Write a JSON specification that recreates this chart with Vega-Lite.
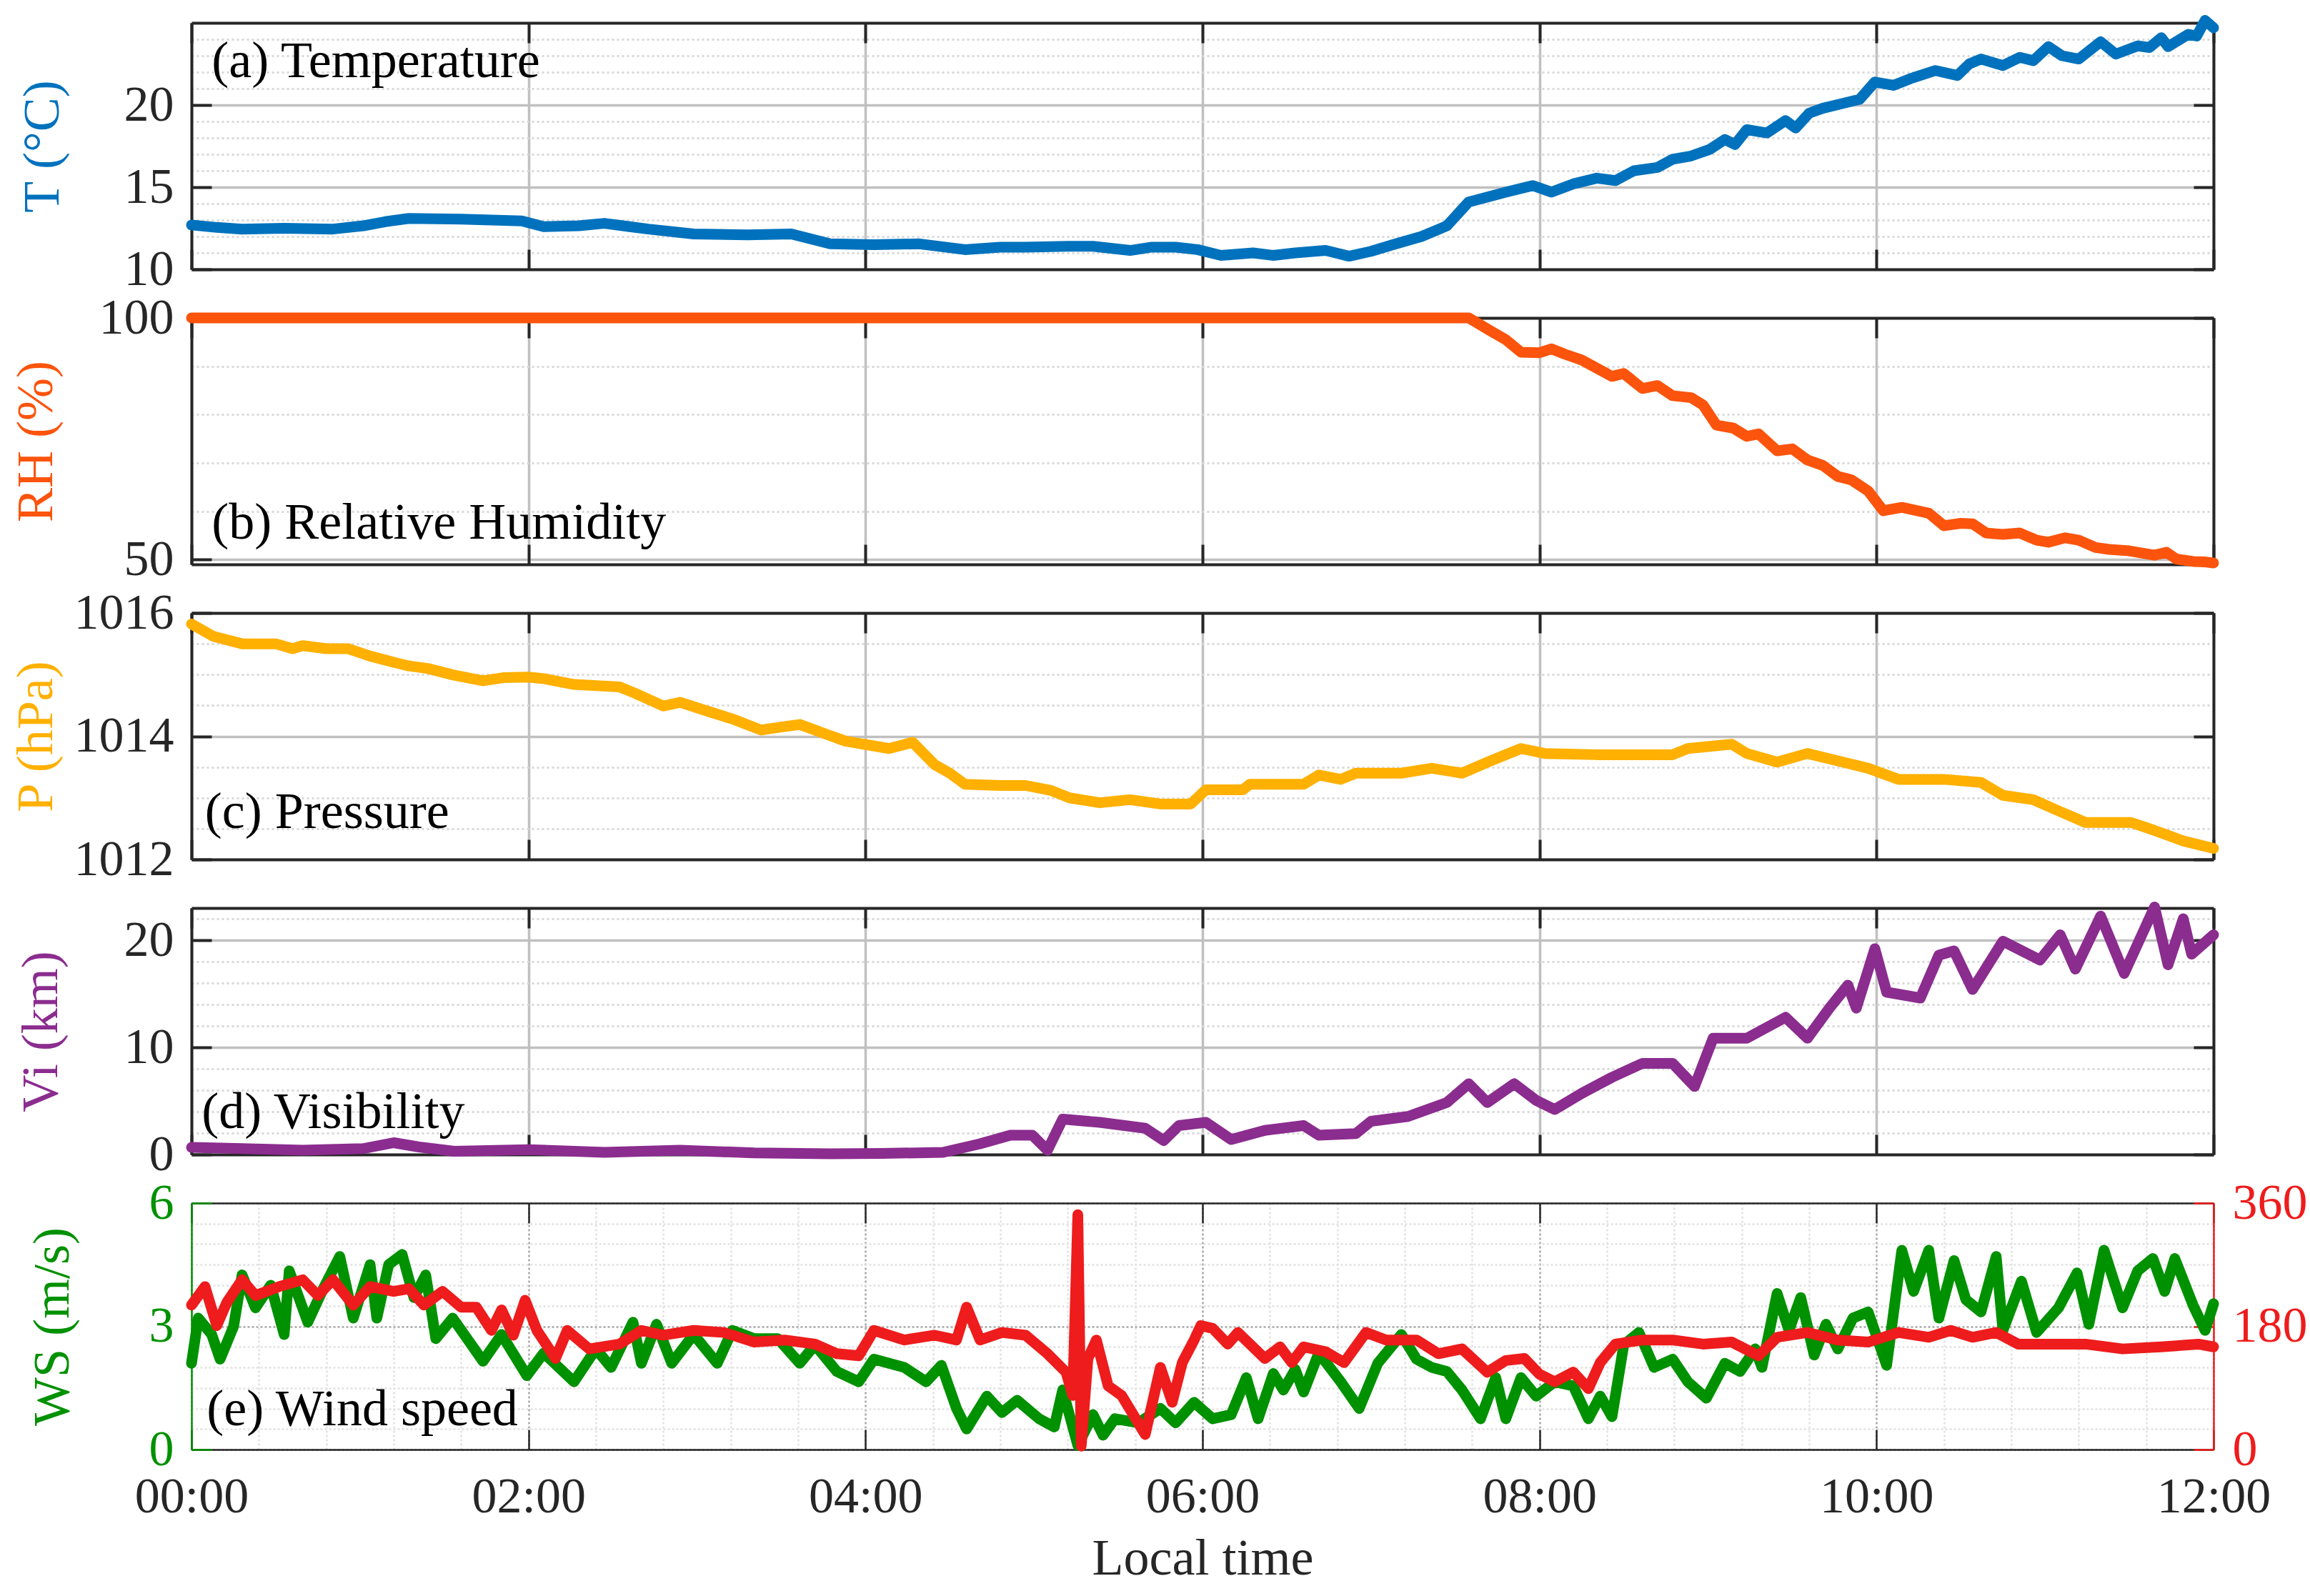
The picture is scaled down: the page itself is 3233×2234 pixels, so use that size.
{
  "$schema": "https://vega.github.io/schema/vega-lite/v6.json",
  "background": "white",
  "padding": {"left": 14, "top": 21, "right": 5, "bottom": 5},
  "config": {
    "font": "Liberation Serif",
    "view": {"stroke": null},
    "axis": {
      "labelFont": "Liberation Serif",
      "labelFontSize": 70,
      "labelColor": "#262626",
      "titleFont": "Liberation Serif",
      "titleFontSize": 72,
      "titleFontWeight": "normal",
      "labelFlush": false,
      "labelOverlap": false,
      "tickColor": "#262626",
      "domainColor": "#262626"
    }
  },
  "datasets": {
    "temp": [
      {"t": 0, "v": 12.7}, {"t": 0.15, "v": 12.55}, {"t": 0.3, "v": 12.45}, {"t": 0.55, "v": 12.5}, {"t": 0.84, "v": 12.45},
      {"t": 1.02, "v": 12.65}, {"t": 1.15, "v": 12.9}, {"t": 1.29, "v": 13.1}, {"t": 1.6, "v": 13.05}, {"t": 1.96, "v": 12.95},
      {"t": 2.09, "v": 12.6}, {"t": 2.3, "v": 12.65}, {"t": 2.45, "v": 12.8}, {"t": 2.6, "v": 12.6}, {"t": 2.71, "v": 12.45},
      {"t": 2.98, "v": 12.15}, {"t": 3.3, "v": 12.1}, {"t": 3.56, "v": 12.15}, {"t": 3.79, "v": 11.55}, {"t": 4.05, "v": 11.5},
      {"t": 4.32, "v": 11.55}, {"t": 4.59, "v": 11.2}, {"t": 4.8, "v": 11.35}, {"t": 4.95, "v": 11.35}, {"t": 5.2, "v": 11.4},
      {"t": 5.35, "v": 11.4}, {"t": 5.57, "v": 11.15}, {"t": 5.7, "v": 11.35}, {"t": 5.84, "v": 11.35}, {"t": 5.97, "v": 11.2},
      {"t": 6.11, "v": 10.85}, {"t": 6.3, "v": 11.0}, {"t": 6.42, "v": 10.85}, {"t": 6.55, "v": 11.0}, {"t": 6.73, "v": 11.15},
      {"t": 6.87, "v": 10.8}, {"t": 7.0, "v": 11.1}, {"t": 7.13, "v": 11.5}, {"t": 7.3, "v": 12.0}, {"t": 7.45, "v": 12.65},
      {"t": 7.58, "v": 14.1}, {"t": 7.8, "v": 14.7}, {"t": 7.96, "v": 15.1}, {"t": 8.07, "v": 14.7}, {"t": 8.2, "v": 15.2},
      {"t": 8.34, "v": 15.55}, {"t": 8.45, "v": 15.4}, {"t": 8.56, "v": 16.0}, {"t": 8.7, "v": 16.2}, {"t": 8.79, "v": 16.7},
      {"t": 8.9, "v": 16.9}, {"t": 9.01, "v": 17.3}, {"t": 9.1, "v": 17.9}, {"t": 9.16, "v": 17.6},
      {"t": 9.23, "v": 18.5}, {"t": 9.35, "v": 18.3}, {"t": 9.46, "v": 19.05}, {"t": 9.52, "v": 18.6}, {"t": 9.6, "v": 19.5}, {"t": 9.68, "v": 19.8},
      {"t": 9.8, "v": 20.1}, {"t": 9.9, "v": 20.35}, {"t": 9.99, "v": 21.4}, {"t": 10.1, "v": 21.2}, {"t": 10.2, "v": 21.6}, {"t": 10.35, "v": 22.1}, {"t": 10.48, "v": 21.8},
      {"t": 10.55, "v": 22.5}, {"t": 10.62, "v": 22.8}, {"t": 10.75, "v": 22.4}, {"t": 10.85, "v": 22.9}, {"t": 10.93, "v": 22.7}, {"t": 11.02, "v": 23.55}, {"t": 11.1, "v": 23.0}, {"t": 11.2, "v": 22.8},
      {"t": 11.33, "v": 23.85}, {"t": 11.42, "v": 23.1}, {"t": 11.55, "v": 23.6}, {"t": 11.62, "v": 23.5}, {"t": 11.69, "v": 24.1}, {"t": 11.73, "v": 23.55},
      {"t": 11.85, "v": 24.3}, {"t": 11.9, "v": 24.2}, {"t": 11.95, "v": 25.15}, {"t": 12.0, "v": 24.7}
    ],
    "rh": [
      {"t": 0, "v": 100}, {"t": 7.58, "v": 100}, {"t": 7.71, "v": 97.3}, {"t": 7.8, "v": 95.5}, {"t": 7.89, "v": 92.9},
      {"t": 8.0, "v": 92.8}, {"t": 8.07, "v": 93.6}, {"t": 8.15, "v": 92.5}, {"t": 8.25, "v": 91.3}, {"t": 8.43, "v": 87.9},
      {"t": 8.5, "v": 88.5}, {"t": 8.61, "v": 85.4}, {"t": 8.7, "v": 86}, {"t": 8.79, "v": 83.9}, {"t": 8.9, "v": 83.5},
      {"t": 8.97, "v": 82}, {"t": 9.05, "v": 77.8}, {"t": 9.15, "v": 77.2}, {"t": 9.23, "v": 75.5}, {"t": 9.3, "v": 76},
      {"t": 9.41, "v": 72.5}, {"t": 9.5, "v": 72.9}, {"t": 9.59, "v": 70.6}, {"t": 9.68, "v": 69.5}, {"t": 9.77, "v": 67.2},
      {"t": 9.85, "v": 66.5}, {"t": 9.95, "v": 64.2}, {"t": 10.04, "v": 60.1}, {"t": 10.15, "v": 60.8}, {"t": 10.31, "v": 59.6},
      {"t": 10.4, "v": 57}, {"t": 10.5, "v": 57.5}, {"t": 10.57, "v": 57.4}, {"t": 10.65, "v": 55.5}, {"t": 10.75, "v": 55.2},
      {"t": 10.85, "v": 55.5}, {"t": 10.95, "v": 54}, {"t": 11.02, "v": 53.6}, {"t": 11.12, "v": 54.5}, {"t": 11.2, "v": 54},
      {"t": 11.3, "v": 52.5}, {"t": 11.38, "v": 52.1}, {"t": 11.5, "v": 51.8}, {"t": 11.65, "v": 50.9}, {"t": 11.72, "v": 51.5},
      {"t": 11.78, "v": 50.1}, {"t": 11.88, "v": 49.6}, {"t": 11.95, "v": 49.5}, {"t": 12, "v": 49.3}
    ],
    "pres": [
      {"t": 0, "v": 1015.82}, {"t": 0.13, "v": 1015.62}, {"t": 0.3, "v": 1015.5}, {"t": 0.5, "v": 1015.5}, {"t": 0.6, "v": 1015.42},
      {"t": 0.66, "v": 1015.47}, {"t": 0.8, "v": 1015.42}, {"t": 0.93, "v": 1015.42}, {"t": 1.06, "v": 1015.3}, {"t": 1.2, "v": 1015.2},
      {"t": 1.29, "v": 1015.14}, {"t": 1.4, "v": 1015.1}, {"t": 1.56, "v": 1014.99}, {"t": 1.73, "v": 1014.9}, {"t": 1.85, "v": 1014.95},
      {"t": 2.0, "v": 1014.96}, {"t": 2.1, "v": 1014.93}, {"t": 2.27, "v": 1014.84}, {"t": 2.54, "v": 1014.8}, {"t": 2.63, "v": 1014.7},
      {"t": 2.8, "v": 1014.49}, {"t": 2.9, "v": 1014.55}, {"t": 3.07, "v": 1014.4}, {"t": 3.21, "v": 1014.28}, {"t": 3.38, "v": 1014.1},
      {"t": 3.5, "v": 1014.15}, {"t": 3.61, "v": 1014.19}, {"t": 3.75, "v": 1014.05}, {"t": 3.88, "v": 1013.92}, {"t": 4.14, "v": 1013.8},
      {"t": 4.28, "v": 1013.9}, {"t": 4.41, "v": 1013.54}, {"t": 4.5, "v": 1013.4}, {"t": 4.59, "v": 1013.22}, {"t": 4.8, "v": 1013.2},
      {"t": 4.95, "v": 1013.2}, {"t": 5.1, "v": 1013.12}, {"t": 5.21, "v": 1013.0}, {"t": 5.39, "v": 1012.92}, {"t": 5.57, "v": 1012.97},
      {"t": 5.75, "v": 1012.9}, {"t": 5.93, "v": 1012.9}, {"t": 6.02, "v": 1013.13}, {"t": 6.24, "v": 1013.13}, {"t": 6.28, "v": 1013.22},
      {"t": 6.6, "v": 1013.22}, {"t": 6.69, "v": 1013.37}, {"t": 6.82, "v": 1013.3}, {"t": 6.91, "v": 1013.4}, {"t": 7.18, "v": 1013.4},
      {"t": 7.36, "v": 1013.48}, {"t": 7.54, "v": 1013.4}, {"t": 7.71, "v": 1013.6}, {"t": 7.89, "v": 1013.8}, {"t": 8.03, "v": 1013.72},
      {"t": 8.34, "v": 1013.7}, {"t": 8.79, "v": 1013.7}, {"t": 8.88, "v": 1013.8}, {"t": 9.14, "v": 1013.87}, {"t": 9.23, "v": 1013.72},
      {"t": 9.41, "v": 1013.58}, {"t": 9.59, "v": 1013.72}, {"t": 9.77, "v": 1013.6}, {"t": 9.95, "v": 1013.48}, {"t": 10.13, "v": 1013.3},
      {"t": 10.4, "v": 1013.3}, {"t": 10.62, "v": 1013.25}, {"t": 10.75, "v": 1013.04}, {"t": 10.93, "v": 1012.97}, {"t": 11.07, "v": 1012.8},
      {"t": 11.24, "v": 1012.6}, {"t": 11.51, "v": 1012.6}, {"t": 11.65, "v": 1012.47}, {"t": 11.82, "v": 1012.3}, {"t": 12, "v": 1012.18}
    ],
    "vis": [
      {"t": 0, "v": 0.66}, {"t": 0.3, "v": 0.55}, {"t": 0.66, "v": 0.4}, {"t": 1.02, "v": 0.55}, {"t": 1.2, "v": 1.1},
      {"t": 1.35, "v": 0.7}, {"t": 1.56, "v": 0.3}, {"t": 2.0, "v": 0.45}, {"t": 2.45, "v": 0.2}, {"t": 2.9, "v": 0.4},
      {"t": 3.34, "v": 0.15}, {"t": 3.79, "v": 0.07}, {"t": 4.1, "v": 0.1}, {"t": 4.46, "v": 0.2}, {"t": 4.68, "v": 1.0},
      {"t": 4.86, "v": 1.8}, {"t": 4.99, "v": 1.8}, {"t": 5.08, "v": 0.4}, {"t": 5.17, "v": 3.3}, {"t": 5.39, "v": 3.0},
      {"t": 5.66, "v": 2.45}, {"t": 5.77, "v": 1.3}, {"t": 5.86, "v": 2.7}, {"t": 6.02, "v": 3.0}, {"t": 6.17, "v": 1.4},
      {"t": 6.37, "v": 2.25}, {"t": 6.6, "v": 2.7}, {"t": 6.69, "v": 1.8}, {"t": 6.91, "v": 1.95}, {"t": 7.0, "v": 3.1},
      {"t": 7.22, "v": 3.55}, {"t": 7.45, "v": 4.85}, {"t": 7.58, "v": 6.6}, {"t": 7.69, "v": 4.85}, {"t": 7.85, "v": 6.6},
      {"t": 7.98, "v": 5.05}, {"t": 8.09, "v": 4.2}, {"t": 8.25, "v": 5.7}, {"t": 8.43, "v": 7.2}, {"t": 8.61, "v": 8.5},
      {"t": 8.79, "v": 8.5}, {"t": 8.92, "v": 6.35}, {"t": 9.03, "v": 10.85}, {"t": 9.23, "v": 10.85}, {"t": 9.46, "v": 12.8},
      {"t": 9.59, "v": 10.85}, {"t": 9.72, "v": 13.65}, {"t": 9.83, "v": 15.8}, {"t": 9.88, "v": 13.65}, {"t": 9.99, "v": 19.2},
      {"t": 10.06, "v": 15.15}, {"t": 10.26, "v": 14.6}, {"t": 10.37, "v": 18.6}, {"t": 10.46, "v": 19.0}, {"t": 10.57, "v": 15.4},
      {"t": 10.75, "v": 19.9}, {"t": 10.97, "v": 18.15}, {"t": 11.09, "v": 20.5}, {"t": 11.18, "v": 17.3}, {"t": 11.33, "v": 22.25},
      {"t": 11.47, "v": 16.9}, {"t": 11.65, "v": 23.1}, {"t": 11.73, "v": 17.7}, {"t": 11.82, "v": 22.0}, {"t": 11.87, "v": 18.7},
      {"t": 12, "v": 20.5}
    ],
    "ws": [
      {"t": 0, "v": 2.1}, {"t": 0.04, "v": 3.2}, {"t": 0.12, "v": 2.8}, {"t": 0.17, "v": 2.2}, {"t": 0.25, "v": 3.0},
      {"t": 0.3, "v": 4.25}, {"t": 0.38, "v": 3.45}, {"t": 0.47, "v": 4.0}, {"t": 0.55, "v": 2.8}, {"t": 0.58, "v": 4.35},
      {"t": 0.69, "v": 3.1}, {"t": 0.78, "v": 3.9}, {"t": 0.88, "v": 4.7}, {"t": 0.96, "v": 3.2}, {"t": 1.06, "v": 4.5},
      {"t": 1.1, "v": 3.2}, {"t": 1.17, "v": 4.5}, {"t": 1.25, "v": 4.75}, {"t": 1.32, "v": 3.7}, {"t": 1.39, "v": 4.25},
      {"t": 1.45, "v": 2.7}, {"t": 1.55, "v": 3.2}, {"t": 1.73, "v": 2.15}, {"t": 1.84, "v": 2.8}, {"t": 1.99, "v": 1.8},
      {"t": 2.09, "v": 2.35}, {"t": 2.27, "v": 1.65}, {"t": 2.4, "v": 2.45}, {"t": 2.49, "v": 2.0}, {"t": 2.62, "v": 3.1},
      {"t": 2.67, "v": 2.1}, {"t": 2.76, "v": 3.05}, {"t": 2.85, "v": 2.1}, {"t": 2.98, "v": 2.8}, {"t": 3.12, "v": 2.1},
      {"t": 3.21, "v": 2.9}, {"t": 3.34, "v": 2.7}, {"t": 3.48, "v": 2.7}, {"t": 3.61, "v": 2.1}, {"t": 3.7, "v": 2.55},
      {"t": 3.83, "v": 1.9}, {"t": 3.96, "v": 1.65}, {"t": 4.05, "v": 2.2}, {"t": 4.23, "v": 2.0}, {"t": 4.36, "v": 1.65},
      {"t": 4.45, "v": 2.05}, {"t": 4.54, "v": 1.0}, {"t": 4.6, "v": 0.5}, {"t": 4.72, "v": 1.3}, {"t": 4.81, "v": 0.9},
      {"t": 4.9, "v": 1.2}, {"t": 5.03, "v": 0.75}, {"t": 5.12, "v": 0.55}, {"t": 5.17, "v": 1.45}, {"t": 5.26, "v": 0.1},
      {"t": 5.35, "v": 0.85}, {"t": 5.41, "v": 0.35}, {"t": 5.48, "v": 0.75}, {"t": 5.62, "v": 0.65}, {"t": 5.75, "v": 1.0},
      {"t": 5.84, "v": 0.65}, {"t": 5.95, "v": 1.15}, {"t": 6.06, "v": 0.75}, {"t": 6.17, "v": 0.85}, {"t": 6.26, "v": 1.75},
      {"t": 6.33, "v": 0.75}, {"t": 6.42, "v": 1.85}, {"t": 6.48, "v": 1.45}, {"t": 6.55, "v": 1.95}, {"t": 6.6, "v": 1.4},
      {"t": 6.69, "v": 2.35}, {"t": 6.82, "v": 1.65}, {"t": 6.93, "v": 1.0}, {"t": 7.04, "v": 2.1}, {"t": 7.18, "v": 2.8},
      {"t": 7.27, "v": 2.2}, {"t": 7.36, "v": 2.0}, {"t": 7.45, "v": 1.9}, {"t": 7.54, "v": 1.45}, {"t": 7.65, "v": 0.75},
      {"t": 7.74, "v": 1.75}, {"t": 7.8, "v": 0.75}, {"t": 7.89, "v": 1.75}, {"t": 7.98, "v": 1.3}, {"t": 8.09, "v": 1.65},
      {"t": 8.2, "v": 1.55}, {"t": 8.29, "v": 0.75}, {"t": 8.36, "v": 1.3}, {"t": 8.43, "v": 0.8}, {"t": 8.5, "v": 2.55},
      {"t": 8.59, "v": 2.85}, {"t": 8.68, "v": 2.0}, {"t": 8.79, "v": 2.2}, {"t": 8.88, "v": 1.65}, {"t": 8.99, "v": 1.25},
      {"t": 9.1, "v": 2.1}, {"t": 9.19, "v": 1.9}, {"t": 9.28, "v": 2.45}, {"t": 9.32, "v": 2.0}, {"t": 9.41, "v": 3.8},
      {"t": 9.48, "v": 2.9}, {"t": 9.55, "v": 3.7}, {"t": 9.63, "v": 2.3}, {"t": 9.7, "v": 3.05}, {"t": 9.77, "v": 2.45},
      {"t": 9.86, "v": 3.2}, {"t": 9.95, "v": 3.35}, {"t": 10.06, "v": 2.05}, {"t": 10.15, "v": 4.85}, {"t": 10.22, "v": 3.85},
      {"t": 10.31, "v": 4.85}, {"t": 10.37, "v": 3.2}, {"t": 10.46, "v": 4.6}, {"t": 10.53, "v": 3.65}, {"t": 10.62, "v": 3.35},
      {"t": 10.71, "v": 4.7}, {"t": 10.75, "v": 2.9}, {"t": 10.86, "v": 4.1}, {"t": 10.95, "v": 2.85}, {"t": 11.08, "v": 3.45},
      {"t": 11.19, "v": 4.3}, {"t": 11.26, "v": 3.05}, {"t": 11.35, "v": 4.85}, {"t": 11.46, "v": 3.45}, {"t": 11.55, "v": 4.35},
      {"t": 11.64, "v": 4.65}, {"t": 11.71, "v": 3.85}, {"t": 11.77, "v": 4.65}, {"t": 11.88, "v": 3.5}, {"t": 11.95, "v": 2.9},
      {"t": 12, "v": 3.55}
    ],
    "wd": [
      {"t": 0, "v": 211}, {"t": 0.08, "v": 238}, {"t": 0.15, "v": 181}, {"t": 0.21, "v": 215}, {"t": 0.3, "v": 248},
      {"t": 0.38, "v": 225}, {"t": 0.52, "v": 238}, {"t": 0.66, "v": 248}, {"t": 0.75, "v": 225}, {"t": 0.84, "v": 248},
      {"t": 0.96, "v": 211}, {"t": 1.06, "v": 238}, {"t": 1.2, "v": 231}, {"t": 1.29, "v": 235}, {"t": 1.38, "v": 211},
      {"t": 1.49, "v": 231}, {"t": 1.6, "v": 208}, {"t": 1.69, "v": 208}, {"t": 1.78, "v": 174}, {"t": 1.84, "v": 204},
      {"t": 1.91, "v": 167}, {"t": 1.98, "v": 218}, {"t": 2.05, "v": 174}, {"t": 2.16, "v": 133}, {"t": 2.23, "v": 174},
      {"t": 2.36, "v": 147}, {"t": 2.54, "v": 154}, {"t": 2.67, "v": 174}, {"t": 2.8, "v": 167}, {"t": 2.98, "v": 174},
      {"t": 3.16, "v": 171}, {"t": 3.34, "v": 157}, {"t": 3.52, "v": 160}, {"t": 3.7, "v": 154}, {"t": 3.83, "v": 140},
      {"t": 3.96, "v": 137}, {"t": 4.05, "v": 174}, {"t": 4.23, "v": 160}, {"t": 4.41, "v": 167}, {"t": 4.54, "v": 160},
      {"t": 4.6, "v": 208}, {"t": 4.68, "v": 160}, {"t": 4.81, "v": 171}, {"t": 4.95, "v": 167}, {"t": 5.08, "v": 140},
      {"t": 5.19, "v": 113}, {"t": 5.23, "v": 79}, {"t": 5.26, "v": 343}, {"t": 5.28, "v": 5}, {"t": 5.32, "v": 133},
      {"t": 5.37, "v": 160}, {"t": 5.44, "v": 93}, {"t": 5.52, "v": 79}, {"t": 5.66, "v": 22}, {"t": 5.75, "v": 120},
      {"t": 5.82, "v": 69}, {"t": 5.88, "v": 127}, {"t": 5.95, "v": 160}, {"t": 5.99, "v": 181}, {"t": 6.06, "v": 177},
      {"t": 6.15, "v": 154}, {"t": 6.21, "v": 171}, {"t": 6.37, "v": 133}, {"t": 6.46, "v": 150}, {"t": 6.53, "v": 127},
      {"t": 6.6, "v": 150}, {"t": 6.73, "v": 143}, {"t": 6.84, "v": 127}, {"t": 6.97, "v": 171}, {"t": 7.09, "v": 160},
      {"t": 7.27, "v": 160}, {"t": 7.4, "v": 140}, {"t": 7.54, "v": 147}, {"t": 7.69, "v": 113}, {"t": 7.8, "v": 130},
      {"t": 7.91, "v": 133}, {"t": 8.0, "v": 110}, {"t": 8.09, "v": 99}, {"t": 8.2, "v": 113}, {"t": 8.29, "v": 89},
      {"t": 8.36, "v": 127}, {"t": 8.45, "v": 154}, {"t": 8.61, "v": 160}, {"t": 8.79, "v": 160}, {"t": 8.97, "v": 154},
      {"t": 9.14, "v": 157}, {"t": 9.3, "v": 137}, {"t": 9.41, "v": 164}, {"t": 9.59, "v": 171}, {"t": 9.77, "v": 160},
      {"t": 9.95, "v": 157}, {"t": 10.13, "v": 171}, {"t": 10.31, "v": 164}, {"t": 10.44, "v": 174}, {"t": 10.57, "v": 164},
      {"t": 10.71, "v": 171}, {"t": 10.84, "v": 154}, {"t": 11.02, "v": 154}, {"t": 11.24, "v": 154}, {"t": 11.46, "v": 147},
      {"t": 11.69, "v": 150}, {"t": 11.91, "v": 154}, {"t": 12, "v": 150}
    ]
  },
  "bounds": "flush",
  "spacing": 68,
  "vconcat": [
    {
      "width": 2830,
      "height": 345,
      "data": {"name": "temp"},
      "resolve": {"axis": {"x": "independent", "y": "independent"}},
      "layer": [
        {
          "mark": {"type": "line", "opacity": 0},
          "encoding": {
            "x": {"field": "t", "type": "quantitative", "scale": {"domain": [0, 12], "nice": false}, "axis": {"orient": "top", "values": [0, 2, 4, 6, 8, 10, 12], "grid": false, "labels": false, "tickSize": -28, "tickWidth": 4, "domainWidth": 4, "title": null}},
            "y": {"field": "v", "type": "quantitative", "scale": {"domain": [10, 25], "nice": false, "zero": false}, "axis": {"orient": "left", "values": [11, 12, 13, 14, 16, 17, 18, 19, 21, 22, 23, 24], "grid": true, "gridColor": "#d9d9d9", "gridDash": [3, 4], "gridWidth": 3, "ticks": false, "labels": false, "domain": false, "title": null}}
          }
        },
        {
          "mark": {"type": "line", "color": "#0072BD", "strokeWidth": 15, "strokeJoin": "round", "strokeCap": "round"},
          "encoding": {
            "x": {"field": "t", "type": "quantitative", "scale": {"domain": [0, 12], "nice": false}, "axis": {"orient": "bottom", "values": [0, 2, 4, 6, 8, 10, 12], "grid": true, "gridColor": "#c0c0c0", "gridWidth": 3.5, "labels": false, "tickSize": -28, "tickWidth": 4, "domainWidth": 4, "title": null}},
            "y": {"field": "v", "type": "quantitative", "scale": {"domain": [10, 25], "nice": false, "zero": false}, "axis": {"orient": "left", "values": [10, 15, 20], "grid": true, "gridColor": "#c0c0c0", "gridWidth": 3.5, "tickSize": -28, "tickWidth": 4, "domainWidth": 4, "labelPadding": 53, "title": "T (°C)", "titleColor": "#0072BD", "titlePadding": 77}}
          }
        },
        {
          "mark": {"type": "line", "opacity": 0},
          "encoding": {
            "x": {"field": "t", "type": "quantitative", "scale": {"domain": [0, 12], "nice": false}, "axis": null},
            "y": {"field": "v", "type": "quantitative", "scale": {"domain": [10, 25], "nice": false, "zero": false}, "axis": {"orient": "right", "values": [10, 15, 20], "grid": false, "labels": false, "tickSize": -28, "tickWidth": 4, "domainWidth": 4, "title": null}}
          }
        },
        {
          "data": {"values": [{"label": "(a) Temperature"}]},
          "mark": {"type": "text", "align": "left", "baseline": "alphabetic", "fontSize": 72, "color": "#000000"},
          "encoding": {
            "x": {"datum": 0.12, "type": "quantitative", "axis": null},
            "y": {"datum": 21.7, "type": "quantitative", "axis": null},
            "text": {"field": "label"}
          }
        }
      ]
    },
    {
      "width": 2830,
      "height": 345,
      "data": {"name": "rh"},
      "resolve": {"axis": {"x": "independent", "y": "independent"}},
      "layer": [
        {
          "mark": {"type": "line", "opacity": 0},
          "encoding": {
            "x": {"field": "t", "type": "quantitative", "scale": {"domain": [0, 12], "nice": false}, "axis": {"orient": "top", "values": [0, 2, 4, 6, 8, 10, 12], "grid": false, "labels": false, "tickSize": -28, "tickWidth": 4, "domainWidth": 4, "title": null}},
            "y": {"field": "v", "type": "quantitative", "scale": {"domain": [49, 100], "nice": false, "zero": false}, "axis": {"orient": "left", "values": [60, 70, 80, 90], "grid": true, "gridColor": "#d9d9d9", "gridDash": [3, 4], "gridWidth": 3, "ticks": false, "labels": false, "domain": false, "title": null}}
          }
        },
        {
          "mark": {"type": "line", "color": "#FC540C", "strokeWidth": 15, "strokeJoin": "round", "strokeCap": "round"},
          "encoding": {
            "x": {"field": "t", "type": "quantitative", "scale": {"domain": [0, 12], "nice": false}, "axis": {"orient": "bottom", "values": [0, 2, 4, 6, 8, 10, 12], "grid": true, "gridColor": "#c0c0c0", "gridWidth": 3.5, "labels": false, "tickSize": -28, "tickWidth": 4, "domainWidth": 4, "title": null}},
            "y": {"field": "v", "type": "quantitative", "scale": {"domain": [49, 100], "nice": false, "zero": false}, "axis": {"orient": "left", "values": [50, 100], "grid": true, "gridColor": "#c0c0c0", "gridWidth": 3.5, "tickSize": -28, "tickWidth": 4, "domainWidth": 4, "labelPadding": 53, "title": "RH (%)", "titleColor": "#FC540C", "titlePadding": 51}}
          }
        },
        {
          "mark": {"type": "line", "opacity": 0},
          "encoding": {
            "x": {"field": "t", "type": "quantitative", "scale": {"domain": [0, 12], "nice": false}, "axis": null},
            "y": {"field": "v", "type": "quantitative", "scale": {"domain": [49, 100], "nice": false, "zero": false}, "axis": {"orient": "right", "values": [50, 100], "grid": false, "labels": false, "tickSize": -28, "tickWidth": 4, "domainWidth": 4, "title": null}}
          }
        },
        {
          "data": {"values": [{"label": "(b) Relative Humidity"}]},
          "mark": {"type": "text", "align": "left", "baseline": "alphabetic", "fontSize": 72, "color": "#000000"},
          "encoding": {
            "x": {"datum": 0.12, "type": "quantitative", "axis": null},
            "y": {"datum": 54.3, "type": "quantitative", "axis": null},
            "text": {"field": "label"}
          }
        }
      ]
    },
    {
      "width": 2830,
      "height": 345,
      "data": {"name": "pres"},
      "resolve": {"axis": {"x": "independent", "y": "independent"}},
      "layer": [
        {
          "mark": {"type": "line", "opacity": 0},
          "encoding": {
            "x": {"field": "t", "type": "quantitative", "scale": {"domain": [0, 12], "nice": false}, "axis": {"orient": "top", "values": [0, 2, 4, 6, 8, 10, 12], "grid": false, "labels": false, "tickSize": -28, "tickWidth": 4, "domainWidth": 4, "title": null}},
            "y": {"field": "v", "type": "quantitative", "scale": {"domain": [1012, 1016], "nice": false, "zero": false}, "axis": {"orient": "left", "values": [1012.5, 1013, 1013.5, 1014.5, 1015, 1015.5], "grid": true, "gridColor": "#d9d9d9", "gridDash": [3, 4], "gridWidth": 3, "ticks": false, "labels": false, "domain": false, "title": null}}
          }
        },
        {
          "mark": {"type": "line", "color": "#FFB000", "strokeWidth": 15, "strokeJoin": "round", "strokeCap": "round"},
          "encoding": {
            "x": {"field": "t", "type": "quantitative", "scale": {"domain": [0, 12], "nice": false}, "axis": {"orient": "bottom", "values": [0, 2, 4, 6, 8, 10, 12], "grid": true, "gridColor": "#c0c0c0", "gridWidth": 3.5, "labels": false, "tickSize": -28, "tickWidth": 4, "domainWidth": 4, "title": null}},
            "y": {"field": "v", "type": "quantitative", "scale": {"domain": [1012, 1016], "nice": false, "zero": false}, "axis": {"orient": "left", "values": [1012, 1014, 1016], "format": "d", "grid": true, "gridColor": "#c0c0c0", "gridWidth": 3.5, "tickSize": -28, "tickWidth": 4, "domainWidth": 4, "labelPadding": 53, "title": "P (hPa)", "titleColor": "#FFB000", "titlePadding": 16}}
          }
        },
        {
          "mark": {"type": "line", "opacity": 0},
          "encoding": {
            "x": {"field": "t", "type": "quantitative", "scale": {"domain": [0, 12], "nice": false}, "axis": null},
            "y": {"field": "v", "type": "quantitative", "scale": {"domain": [1012, 1016], "nice": false, "zero": false}, "axis": {"orient": "right", "values": [1012, 1014, 1016], "grid": false, "labels": false, "tickSize": -28, "tickWidth": 4, "domainWidth": 4, "title": null}}
          }
        },
        {
          "data": {"values": [{"label": "(c) Pressure"}]},
          "mark": {"type": "text", "align": "left", "baseline": "alphabetic", "fontSize": 72, "color": "#000000"},
          "encoding": {
            "x": {"datum": 0.08, "type": "quantitative", "axis": null},
            "y": {"datum": 1012.51, "type": "quantitative", "axis": null},
            "text": {"field": "label"}
          }
        }
      ]
    },
    {
      "width": 2830,
      "height": 345,
      "data": {"name": "vis"},
      "resolve": {"axis": {"x": "independent", "y": "independent"}},
      "layer": [
        {
          "mark": {"type": "line", "opacity": 0},
          "encoding": {
            "x": {"field": "t", "type": "quantitative", "scale": {"domain": [0, 12], "nice": false}, "axis": {"orient": "top", "values": [0, 2, 4, 6, 8, 10, 12], "grid": false, "labels": false, "tickSize": -28, "tickWidth": 4, "domainWidth": 4, "title": null}},
            "y": {"field": "v", "type": "quantitative", "scale": {"domain": [0, 23], "nice": false, "zero": false}, "axis": {"orient": "left", "values": [2, 4, 6, 8, 12, 14, 16, 18, 22], "grid": true, "gridColor": "#d9d9d9", "gridDash": [3, 4], "gridWidth": 3, "ticks": false, "labels": false, "domain": false, "title": null}}
          }
        },
        {
          "mark": {"type": "line", "color": "#8B2C8F", "strokeWidth": 15, "strokeJoin": "round", "strokeCap": "round"},
          "encoding": {
            "x": {"field": "t", "type": "quantitative", "scale": {"domain": [0, 12], "nice": false}, "axis": {"orient": "bottom", "values": [0, 2, 4, 6, 8, 10, 12], "grid": true, "gridColor": "#c0c0c0", "gridWidth": 3.5, "labels": false, "tickSize": -28, "tickWidth": 4, "domainWidth": 4, "title": null}},
            "y": {"field": "v", "type": "quantitative", "scale": {"domain": [0, 23], "nice": false, "zero": false}, "axis": {"orient": "left", "values": [0, 10, 20], "grid": true, "gridColor": "#c0c0c0", "gridWidth": 3.5, "tickSize": -28, "tickWidth": 4, "domainWidth": 4, "labelPadding": 53, "title": "Vi (km)", "titleColor": "#8B2C8F", "titlePadding": 79}}
          }
        },
        {
          "mark": {"type": "line", "opacity": 0},
          "encoding": {
            "x": {"field": "t", "type": "quantitative", "scale": {"domain": [0, 12], "nice": false}, "axis": null},
            "y": {"field": "v", "type": "quantitative", "scale": {"domain": [0, 23], "nice": false, "zero": false}, "axis": {"orient": "right", "values": [0, 10, 20], "grid": false, "labels": false, "tickSize": -28, "tickWidth": 4, "domainWidth": 4, "title": null}}
          }
        },
        {
          "data": {"values": [{"label": "(d) Visibility"}]},
          "mark": {"type": "text", "align": "left", "baseline": "alphabetic", "fontSize": 72, "color": "#000000"},
          "encoding": {
            "x": {"datum": 0.06, "type": "quantitative", "axis": null},
            "y": {"datum": 2.46, "type": "quantitative", "axis": null},
            "text": {"field": "label"}
          }
        }
      ]
    },
    {
      "width": 2830,
      "height": 345,
      "resolve": {"axis": {"x": "independent", "y": "independent"}, "scale": {"y": "independent"}},
      "layer": [
        {
          "data": {"name": "ws"},
          "mark": {"type": "line", "opacity": 0},
          "encoding": {
            "x": {"field": "t", "type": "quantitative", "scale": {"domain": [0, 12], "nice": false}, "axis": {"orient": "bottom", "values": [0.4, 0.8, 1.2, 1.6, 2.4, 2.8, 3.2, 3.6, 4.4, 4.8, 5.2, 5.6, 6.4, 6.8, 7.2, 7.6, 8.4, 8.8, 9.2, 9.6, 10.4, 10.8, 11.2, 11.6], "grid": true, "gridColor": "#e2e2e2", "gridDash": [3, 3], "gridWidth": 2.5, "ticks": false, "labels": false, "domain": false, "title": null}},
            "y": {"field": "v", "type": "quantitative", "scale": {"domain": [0, 6], "nice": false, "zero": false}, "axis": {"orient": "left", "values": [0.5, 1, 1.5, 2, 2.5, 3.5, 4, 4.5, 5, 5.5], "grid": true, "gridColor": "#e2e2e2", "gridDash": [3, 3], "gridWidth": 2.5, "ticks": false, "labels": false, "domain": false, "title": null}}
          }
        },
        {
          "data": {"name": "ws"},
          "mark": {"type": "line", "color": "#009100", "strokeWidth": 15, "strokeJoin": "round", "strokeCap": "round"},
          "encoding": {
            "x": {"field": "t", "type": "quantitative", "scale": {"domain": [0, 12], "nice": false}, "axis": {"orient": "bottom", "values": [0, 2, 4, 6, 8, 10, 12], "labelExpr": "(datum.value < 10 ? '0' : '') + datum.value + ':00'", "grid": true, "gridColor": "#a8a8a8", "gridDash": [3, 3], "gridWidth": 2.5, "tickSize": -28, "tickWidth": 2.5, "domainWidth": 2.5, "labelPadding": 60, "title": "Local time", "titleColor": "#262626", "titlePadding": 16}},
            "y": {"field": "v", "type": "quantitative", "scale": {"domain": [0, 6], "nice": false, "zero": false}, "axis": {"orient": "left", "values": [0, 3, 6], "grid": true, "gridColor": "#a8a8a8", "gridDash": [3, 3], "gridWidth": 2.5, "tickSize": -28, "tickWidth": 2.5, "tickColor": "#009100", "domainWidth": 2.5, "domainColor": "#009100", "labelColor": "#009100", "labelPadding": 53, "title": "WS (m/s)", "titleColor": "#009100", "titlePadding": 98}}
          }
        },
        {
          "data": {"name": "wd"},
          "mark": {"type": "line", "color": "#EE1C1C", "strokeWidth": 15, "strokeJoin": "round", "strokeCap": "round"},
          "encoding": {
            "x": {"field": "t", "type": "quantitative", "scale": {"domain": [0, 12], "nice": false}, "axis": {"orient": "top", "values": [0, 2, 4, 6, 8, 10, 12], "grid": false, "labels": false, "tickSize": -28, "tickWidth": 2.5, "domainWidth": 2.5, "title": null}},
            "y": {"field": "v", "type": "quantitative", "scale": {"domain": [0, 360], "nice": false, "zero": false}, "axis": {"orient": "right", "values": [0, 180, 360], "grid": false, "tickSize": -28, "tickWidth": 2.5, "tickColor": "#EE1C1C", "domainWidth": 2.5, "domainColor": "#EE1C1C", "labelColor": "#EE1C1C", "labelPadding": 54, "title": null}}
          }
        },
        {
          "data": {"values": [{"label": "(e) Wind speed"}]},
          "mark": {"type": "text", "align": "left", "baseline": "alphabetic", "fontSize": 72, "color": "#000000"},
          "encoding": {
            "x": {"datum": 0.09, "type": "quantitative", "axis": null},
            "y": {"datum": 0.59, "type": "quantitative", "scale": {"domain": [0, 6], "nice": false, "zero": false}, "axis": null},
            "text": {"field": "label"}
          }
        }
      ]
    }
  ]
}
